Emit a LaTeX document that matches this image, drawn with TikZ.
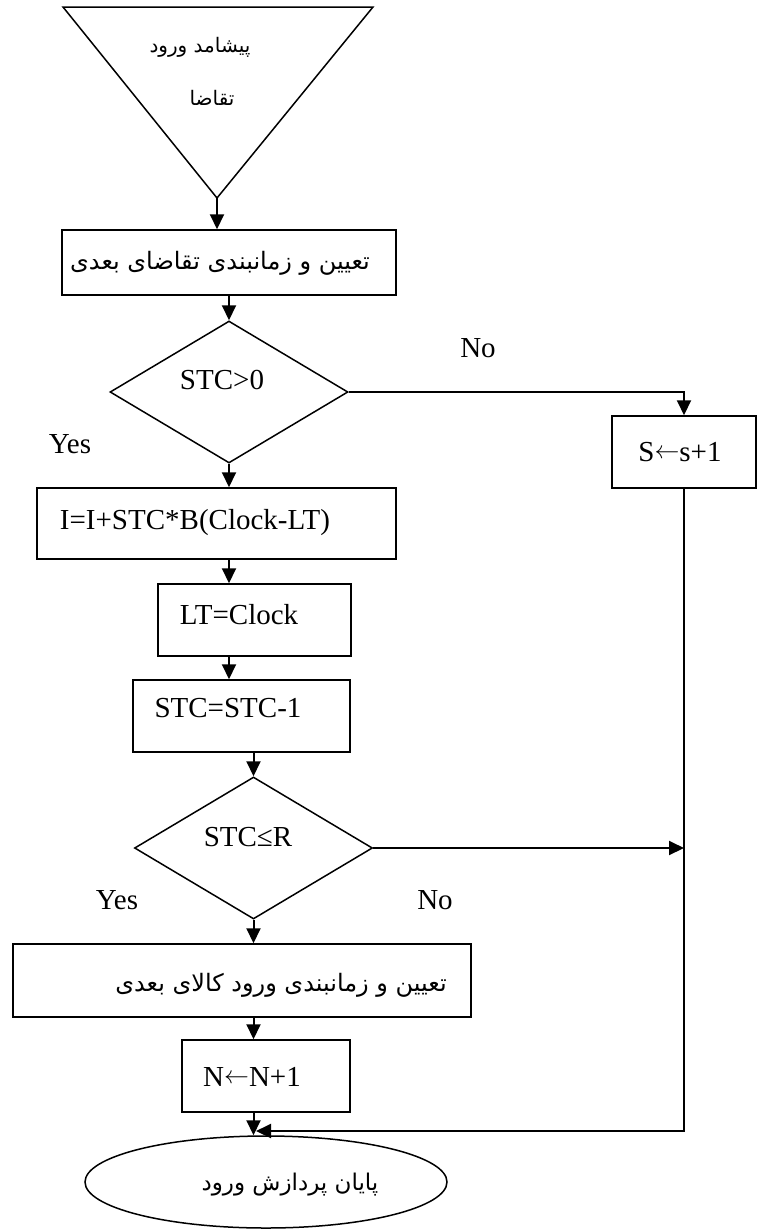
\documentclass[tikz,border=0pt]{standalone}
\usepackage{fontspec}
\setmainfont{Liberation Serif}
\newfontfamily\fafont[Script=Arabic]{DejaVu Sans}
\TeXXeTstate=1
\usetikzlibrary{shapes.geometric,arrows.meta}
% long left arrow used in the assignment boxes
\newcommand\assignarrow{\raisebox{3pt}{\fontsize{23}{24}\selectfont$\leftarrow$}}
\begin{document}
\begin{tikzpicture}[x=1pt,y=-1pt,
  box/.style={draw,line width=1.5pt,rectangle,inner sep=0pt},
  dec/.style={draw,line width=1.5pt,diamond,inner sep=0pt,minimum width=238pt,minimum height=142pt},
  term/.style={draw,line width=1.5pt,ellipse,inner sep=0pt},
  flow/.style={line width=2pt,-{Triangle[length=15pt,width=14pt]}},
  lat/.style={font=\fontsize{29}{34}\selectfont,inner sep=0pt},
  fa/.style={font=\fafont\fontsize{24}{28}\selectfont,inner sep=0pt},
  fasmall/.style={font=\fafont\fontsize{20}{24}\selectfont,inner sep=0pt}]
\useasboundingbox (0,0) rectangle (763,1229);

% start: inverted triangle
\coordinate (tl) at (63,7);
\coordinate (tr) at (373,7);
\coordinate (apex) at (217,198);
\draw[line width=1.5pt] (tl) -- (tr) -- (apex) -- cycle;
\node[fasmall] (t0a) at (200,47) {\beginR پیشامد ورود\endR};
\node[fasmall] (t0b) at (212,98) {\beginR تقاضا\endR};

% boxes and decisions
\node[box,minimum width=334pt,minimum height=65pt] (b1) at (229,262.5) {};
\node[dec] (d1) at (229,392) {};
\node[box,minimum width=144pt,minimum height=72pt] (sbox) at (684,452) {};
\node[box,minimum width=359pt,minimum height=71pt] (ibox) at (216.5,523.5) {};
\node[box,minimum width=193pt,minimum height=72pt] (lt) at (254.5,620) {};
\node[box,minimum width=217pt,minimum height=72pt] (stc) at (241.5,716) {};
\node[dec] (d2) at (253.5,848) {};
\node[box,minimum width=458pt,minimum height=73pt] (kbox) at (242,980.5) {};
\node[box,minimum width=168pt,minimum height=72pt] (nbox) at (266,1076) {};
\node[term,minimum width=362pt,minimum height=92pt] (end) at (266,1182) {};

% texts
\node[fa] (t1) at (220,263) {\beginR تعیین و زمانبندی تقاضای بعدی\endR};
\node[lat] (td1) at (222,380) {STC>0};
\node[lat] (ts) at (680,452) {S\assignarrow s+1};
\node[lat] (ti) at (195,523) {I=I+STC*B(Clock-LT)};
\node[lat] (tlt) at (239,615) {LT=Clock};
\node[lat] (tstc) at (228,708) {STC=STC-1};
\node[lat] (td2) at (248,837) {STC≤R};
\node[fa] (tk) at (281,985) {\beginR تعیین و زمانبندی ورود کالای بعدی\endR};
\node[lat] (tn) at (252,1077) {N\assignarrow N+1};
\node[fa,font=\fafont\fontsize{23}{27}\selectfont] (tend) at (290,1185) {\beginR پایان پردازش ورود\endR};

% branch labels
\node[lat] (no1) at (478,348) {No};
\node[lat] (yes1) at (70,444) {Yes};
\node[lat] (yes2) at (117,900) {Yes};
\node[lat] (no2) at (435,900) {No};

% connectors
\draw[flow] (apex) -- (apex |- b1.north);
\draw[flow] (b1.south) -- (d1.north);
\draw[flow] (d1.east) -| (sbox.north);
\draw[flow] (d1.south) -- (d1.south |- ibox.north);
\draw[flow] (ibox.south -| d1.south) -- (d1.south |- lt.north);
\draw[flow] (lt.south -| d1.south) -- (d1.south |- stc.north);
\draw[flow] (stc.south -| d2.north) -- (d2.north);
\draw[flow] (d2.east) -- (d2.east -| sbox.south);
\draw[flow] (d2.south) -- (d2.south |- kbox.north);
\draw[flow] (kbox.south -| d2.south) -- (d2.south |- nbox.north);
\draw[flow] (nbox.south -| d2.south) -- (d2.south |- end.north);
\coordinate (join) at (256,1131);
\draw[flow] (sbox.south) |- (join);
\end{tikzpicture}
\end{document}
